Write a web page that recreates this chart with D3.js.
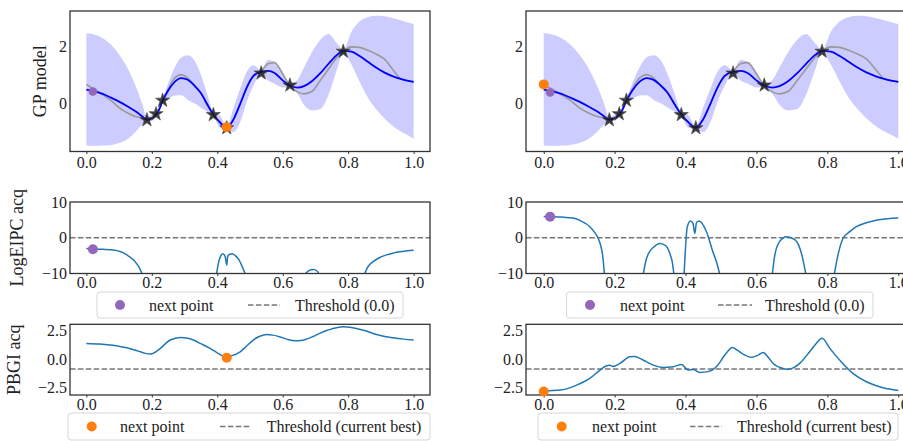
<!DOCTYPE html>
<html>
<head>
<meta charset="utf-8">
<script src="https://cdn.jsdelivr.net/npm/d3@7"></script>
<style>
  html, body { margin: 0; padding: 0; background: #fff; }
  svg { display: block; font-family: "Liberation Serif", "DejaVu Serif", serif; }
</style>
</head>
<body>
<svg id="chart" width="903" height="441"></svg>
<script>
// ---- data ----
const xTicks = [0, 0.2, 0.4, 0.6, 0.8, 1.0];
const gpTicks = [0, 2];
const eipcTicks = [-10, 0, 10];
const pbgiTicks = [-2.5, 0, 2.5];

// GP model (same in both columns)
const gpX = [0, 0.025, 0.05, 0.075, 0.1, 0.125, 0.15, 0.17, 0.185, 0.2, 0.213, 0.223, 0.233, 0.25, 0.27, 0.29, 0.31, 0.33, 0.35, 0.37, 0.388, 0.408, 0.429, 0.45, 0.47, 0.49, 0.51, 0.534, 0.555, 0.575, 0.6, 0.622, 0.645, 0.665, 0.69, 0.715, 0.74, 0.765, 0.785, 0.81, 0.835, 0.86, 0.885, 0.91, 0.935, 0.96, 0.98, 1.0];
const gpMean = [0.48, 0.42, 0.33, 0.2, 0.06, -0.1, -0.28, -0.45, -0.57, -0.52, -0.39, -0.2, 0.08, 0.45, 0.75, 0.88, 0.82, 0.62, 0.36, -0.05, -0.39, -0.66, -0.85, -0.55, -0.02, 0.55, 0.95, 1.1, 1.13, 1.06, 0.8, 0.62, 0.55, 0.6, 0.78, 1.05, 1.38, 1.68, 1.83, 1.8, 1.65, 1.45, 1.25, 1.08, 0.95, 0.85, 0.79, 0.75];
const gpTrue = [0.66, 0.48, 0.3, 0.1, -0.15, -0.33, -0.46, -0.5, -0.55, -0.5, -0.39, -0.18, 0.1, 0.5, 0.88, 1.0, 0.88, 0.62, 0.34, -0.05, -0.39, -0.66, -0.85, -0.55, -0.02, 0.55, 0.97, 1.12, 1.38, 1.42, 1.02, 0.62, 0.4, 0.33, 0.42, 0.8, 1.2, 1.6, 1.82, 1.97, 1.95, 1.85, 1.72, 1.55, 1.2, 0.86, 0.79, 0.75];
const gpUpper = [2.44, 2.4, 2.27, 2.05, 1.7, 1.25, 0.62, 0.0, -0.5, -0.4, -0.33, -0.1, 0.15, 0.7, 1.25, 1.6, 1.68, 1.5, 1.0, 0.3, -0.33, -0.42, -0.8, -0.13, 0.51, 1.1, 1.33, 1.15, 1.51, 1.45, 1.1, 0.67, 0.82, 1.25, 1.8, 2.22, 2.42, 2.1, 1.87, 2.5, 2.85, 3.0, 3.05, 3.04, 2.98, 2.9, 2.83, 2.77];
const gpLower = [-1.47, -1.48, -1.47, -1.45, -1.38, -1.25, -1.0, -0.75, -0.62, -0.62, -0.45, -0.3, 0.03, 0.15, 0.27, 0.28, 0.12, 0.0, -0.15, -0.3, -0.45, -0.85, -0.9, -1.0, -0.66, 0.05, 0.6, 1.03, 0.8, 0.69, 0.55, 0.58, 0.33, -0.05, -0.25, -0.2, 0.3, 1.15, 1.77, 1.35, 0.75, 0.2, -0.2, -0.52, -0.78, -0.97, -1.1, -1.24];
const obsX = [0.185, 0.213, 0.233, 0.388, 0.429, 0.534, 0.622, 0.785];
const obsY = [-0.58, -0.37, 0.1, -0.4, -0.86, 1.05, 0.63, 1.81];

// LogEIPC acquisition (null = below the axis)
const eipcLeftX = [0, 0.02, 0.05, 0.083, 0.105, 0.124, 0.144, 0.16, 0.17, 0.3, 0.398, 0.405, 0.41, 0.417, 0.424, 0.429, 0.432, 0.438, 0.446, 0.455, 0.465, 0.475, 0.485, 0.6, 0.67, 0.68, 0.693, 0.705, 0.71, 0.8, 0.851, 0.858, 0.866, 0.876, 0.895, 0.917, 0.937, 0.957, 0.98, 1.0];
const eipcLeftY = [-3.0, -3.15, -3.25, -3.4, -3.9, -4.8, -6.2, -8.1, -10, null, -10, -6.5, -5.2, -4.5, -5.2, -7.6, -5.2, -4.6, -4.5, -5.0, -6.0, -7.8, -10, null, -10, -9.2, -8.9, -9.3, -10, null, -10, -8.5, -7.5, -6.7, -5.6, -4.8, -4.3, -3.9, -3.65, -3.5];
const eipcRightX = [0, 0.02, 0.05, 0.083, 0.105, 0.13, 0.145, 0.154, 0.161, 0.166, 0.171, 0.2, 0.281, 0.288, 0.295, 0.31, 0.328, 0.345, 0.356, 0.362, 0.367, 0.38, 0.396, 0.405, 0.414, 0.421, 0.426, 0.431, 0.438, 0.459, 0.477, 0.488, 0.496, 0.55, 0.645, 0.651, 0.665, 0.685, 0.709, 0.728, 0.739, 0.78, 0.82, 0.83, 0.844, 0.863, 0.882, 0.91, 0.938, 0.97, 1.0];
const eipcRightY = [5.95, 5.9, 5.8, 5.5, 4.7, 3.1, 1.3, -0.2, -2.3, -4.8, -10, null, -10, -6.5, -4.5, -2.6, -1.6, -2.3, -4.5, -6.5, -10, null, -10, 3.1, 4.7, 4.0, 1.2, 4.3, 4.7, 1.7, -3.9, -7.0, -10, null, -10, -5.3, -1.1, 0.3, -0.6, -4.8, -10, null, -10, -4.8, -0.2, 1.7, 3.1, 4.2, 4.9, 5.3, 5.5];
const eipcThreshold = 0.0;

// PBGI acquisition
const pbgiLeftX = [0, 0.04, 0.073, 0.1, 0.124, 0.145, 0.165, 0.18, 0.195, 0.21, 0.226, 0.256, 0.287, 0.31, 0.327, 0.35, 0.378, 0.4, 0.419, 0.43, 0.445, 0.47, 0.49, 0.51, 0.53, 0.551, 0.57, 0.59, 0.612, 0.638, 0.655, 0.673, 0.693, 0.713, 0.734, 0.754, 0.785, 0.805, 0.825, 0.85, 0.876, 0.905, 0.937, 0.97, 1.0];
const pbgiLeftY = [1.37, 1.32, 1.23, 1.12, 0.99, 0.82, 0.64, 0.5, 0.44, 0.6, 0.94, 1.67, 1.9, 1.82, 1.67, 1.35, 0.94, 0.55, 0.25, 0.18, 0.3, 0.64, 1.15, 1.67, 2.0, 2.16, 2.1, 1.96, 1.75, 1.6, 1.62, 1.75, 1.98, 2.25, 2.5, 2.69, 2.84, 2.8, 2.69, 2.5, 2.25, 2.02, 1.87, 1.75, 1.67];
const pbgiRightX = [0, 0.046, 0.093, 0.13, 0.159, 0.177, 0.186, 0.195, 0.215, 0.243, 0.255, 0.271, 0.29, 0.309, 0.337, 0.365, 0.389, 0.407, 0.421, 0.44, 0.464, 0.487, 0.511, 0.532, 0.545, 0.562, 0.586, 0.605, 0.619, 0.632, 0.647, 0.675, 0.689, 0.705, 0.722, 0.75, 0.768, 0.785, 0.807, 0.839, 0.872, 0.91, 0.957, 1.0];
const pbgiRightY = [-2.8, -2.72, -2.28, -1.7, -0.96, -0.59, -0.55, -0.64, -0.38, 0.2, 0.22, 0.06, -0.25, -0.53, -0.73, -0.67, -0.47, -0.96, -0.91, -1.17, -1.1, -0.67, 0.35, 1.02, 0.8, 0.44, 0.15, 0.35, 0.58, 0.2, -0.38, -0.82, -0.9, -0.75, -0.38, 0.64, 1.35, 1.82, 0.94, -0.23, -1.25, -1.99, -2.51, -2.75];
const pbgiThreshold = -0.87;

// next points [left, right]
const eipcNextX = [0.02, 0.018];
const eipcNextGP = [0.41, 0.38];
const eipcNextAcq = [-3.2, 5.9];
const pbgiNextX = [0.429, 0.0];
const pbgiNextGP = [-0.83, 0.66];
const pbgiNextAcq = [0.12, -2.85];

// ---- layout ----
const svg = d3.select('#chart');
const cols = [{left: 70, right: 430}, {left: 526, right: 916}];
const rows = {
  gp:   {top: 11,    bottom: 151.5, domain: [-1.68, 3.22], ticks: gpTicks,   fmt: d3.format('d'),   xPad: 2.5},
  eipc: {top: 202,   bottom: 273.5, domain: [-10, 10],     ticks: eipcTicks, fmt: d3.format('d'),   xPad: 0.8},
  pbgi: {top: 324.3, bottom: 395,   domain: [-3.15, 3.05], ticks: pbgiTicks, fmt: d3.format('.1f'), xPad: 0.8}
};
const PURPLE = '#9467bd', ORANGE = '#ff7f0e', ACQ = '#1f77b4';
let clipCount = 0;

function panel(col, row) {
  const x = d3.scaleLinear().domain([-0.05, 1.05]).range([col.left, col.right]);
  const y = d3.scaleLinear().domain(row.domain).range([row.bottom, row.top]);
  const id = 'clip' + (clipCount++);
  svg.append('clipPath').attr('id', id).append('rect')
    .attr('x', col.left).attr('y', row.top)
    .attr('width', col.right - col.left).attr('height', row.bottom - row.top);
  const g = svg.append('g');
  const plot = g.append('g').attr('clip-path', `url(#${id})`);
  return {x, y, g, plot, col, row};
}

function frame(p) {
  const ax = p.g.append('g').attr('transform', `translate(0,${p.row.bottom})`)
    .call(d3.axisBottom(p.x).tickValues(xTicks).tickFormat(d3.format('.1f'))
      .tickSizeInner(2.5).tickSizeOuter(0).tickPadding(p.row.xPad));
  ax.select('.domain').remove();
  const ay = p.g.append('g').attr('transform', `translate(${p.col.left},0)`)
    .call(d3.axisLeft(p.y).tickValues(p.row.ticks).tickFormat(p.row.fmt)
      .tickSizeInner(0).tickSizeOuter(0).tickPadding(3));
  ay.select('.domain').remove();
  [ax, ay].forEach(a => {
    a.selectAll('text').attr('font-size', 16).attr('fill', '#222')
      .attr('font-family', '"Liberation Serif", serif');
    a.selectAll('line').attr('stroke', '#333').attr('stroke-width', 1);
  });
  p.g.append('rect')
    .attr('x', p.col.left).attr('y', p.row.top)
    .attr('width', p.col.right - p.col.left).attr('height', p.row.bottom - p.row.top)
    .attr('fill', 'none').attr('stroke', '#333').attr('stroke-width', 1.3);
}

function dot(p, cx, cy, r, color) {
  p.g.append('circle').attr('cx', p.x(cx)).attr('cy', p.y(cy)).attr('r', r).attr('fill', color);
}

function drawGP(p, side) {
  const pts = gpX.map((v, i) => ({x: v, m: gpMean[i], t: gpTrue[i], u: gpUpper[i], l: gpLower[i]}));
  p.plot.append('path').datum(pts)
    .attr('d', d3.area().x(d => p.x(d.x)).y0(d => p.y(d.l)).y1(d => p.y(d.u)).curve(d3.curveMonotoneX))
    .attr('fill', 'rgb(204,204,255)');
  p.plot.append('path').datum(pts)
    .attr('d', d3.line().x(d => p.x(d.x)).y(d => p.y(d.t)).curve(d3.curveMonotoneX))
    .attr('fill', 'none').attr('stroke', '#999').attr('stroke-width', 1.6);
  p.plot.append('path').datum(pts)
    .attr('d', d3.line().x(d => p.x(d.x)).y(d => p.y(d.m)).curve(d3.curveMonotoneX))
    .attr('fill', 'none').attr('stroke', '#0000ff').attr('stroke-width', 1.8);
  const star = d3.symbol().type(d3.symbolStar).size(62);
  p.g.selectAll(null).data(obsX).enter().append('path')
    .attr('d', star)
    .attr('transform', (d, i) => `translate(${p.x(d)},${p.y(obsY[i])})`)
    .attr('fill', '#1a1a1a').attr('fill-opacity', 0.85)
    .attr('stroke', '#444').attr('stroke-width', 0.6);
  frame(p);
  dot(p, pbgiNextX[side], pbgiNextGP[side], 5, ORANGE);
  dot(p, eipcNextX[side], eipcNextGP[side], 4.3, PURPLE);
}

function drawAcq(p, xs, ys, thr) {
  const pts = xs.map((v, i) => ({x: v, y: ys[i]}));
  p.plot.append('line')
    .attr('x1', p.col.left).attr('x2', p.col.right)
    .attr('y1', p.y(thr)).attr('y2', p.y(thr))
    .attr('stroke', '#777').attr('stroke-width', 1.4).attr('stroke-dasharray', '5.5,2.4');
  p.plot.append('path').datum(pts)
    .attr('d', d3.line().defined(d => d.y !== null).x(d => p.x(d.x)).y(d => p.y(d.y)).curve(d3.curveMonotoneX))
    .attr('fill', 'none').attr('stroke', ACQ).attr('stroke-width', 1.5);
  frame(p);
}

function legend(o) {
  const g = svg.append('g');
  g.append('rect').attr('x', o.x0).attr('y', o.y0).attr('width', o.x1 - o.x0).attr('height', o.y1 - o.y0)
    .attr('rx', 3).attr('fill', '#fff').attr('fill-opacity', 0.8)
    .attr('stroke', '#d6d6d6').attr('stroke-width', 1);
  const cy = (o.y0 + o.y1) / 2;
  g.append('circle').attr('cx', o.dotX).attr('cy', cy).attr('r', 5).attr('fill', o.color);
  g.append('text').attr('x', o.textX).attr('y', cy + 5.5).attr('font-size', 16).attr('fill', '#222').text('next point');
  g.append('line').attr('x1', o.dash0).attr('x2', o.dash1).attr('y1', cy).attr('y2', cy)
    .attr('stroke', '#777').attr('stroke-width', 1.4).attr('stroke-dasharray', '5.5,2.4');
  g.append('text').attr('x', o.text2X).attr('y', cy + 5.5).attr('font-size', 16).attr('fill', '#222').text(o.label);
}

function ylabel(x, row, text) {
  svg.append('text')
    .attr('transform', `translate(${x},${(row.top + row.bottom) / 2}) rotate(-90)`)
    .attr('text-anchor', 'middle').attr('font-size', 18).attr('fill', '#222').text(text);
}

// ---- draw ----
cols.forEach((col, side) => {
  drawGP(panel(col, rows.gp), side);

  const pe = panel(col, rows.eipc);
  drawAcq(pe, side ? eipcRightX : eipcLeftX, side ? eipcRightY : eipcLeftY, eipcThreshold);
  dot(pe, eipcNextX[side], eipcNextAcq[side], 5, PURPLE);

  const pp = panel(col, rows.pbgi);
  drawAcq(pp, side ? pbgiRightX : pbgiLeftX, side ? pbgiRightY : pbgiLeftY, pbgiThreshold);
  dot(pp, pbgiNextX[side], pbgiNextAcq[side], 5, ORANGE);
});

ylabel(46, rows.gp, 'GP model');
ylabel(23, rows.eipc, 'LogEIPC acq');
ylabel(20, rows.pbgi, 'PBGI acq');

legend({x0: 97, x1: 403, y0: 292, y1: 318, dotX: 120, textX: 149, dash0: 248, dash1: 280, text2X: 295, color: PURPLE, label: 'Threshold (0.0)'});
legend({x0: 566.5, x1: 873, y0: 292, y1: 318, dotX: 590, textX: 620, dash0: 718, dash1: 752, text2X: 765, color: PURPLE, label: 'Threshold (0.0)'});
legend({x0: 68, x1: 430, y0: 413, y1: 440, dotX: 91.7, textX: 120, dash0: 220, dash1: 250, text2X: 266.7, color: ORANGE, label: 'Threshold (current best)'});
legend({x0: 538, x1: 898, y0: 413, y1: 440, dotX: 561.7, textX: 592, dash0: 690, dash1: 722, text2X: 737, color: ORANGE, label: 'Threshold (current best)'});
</script>
</body>
</html>
